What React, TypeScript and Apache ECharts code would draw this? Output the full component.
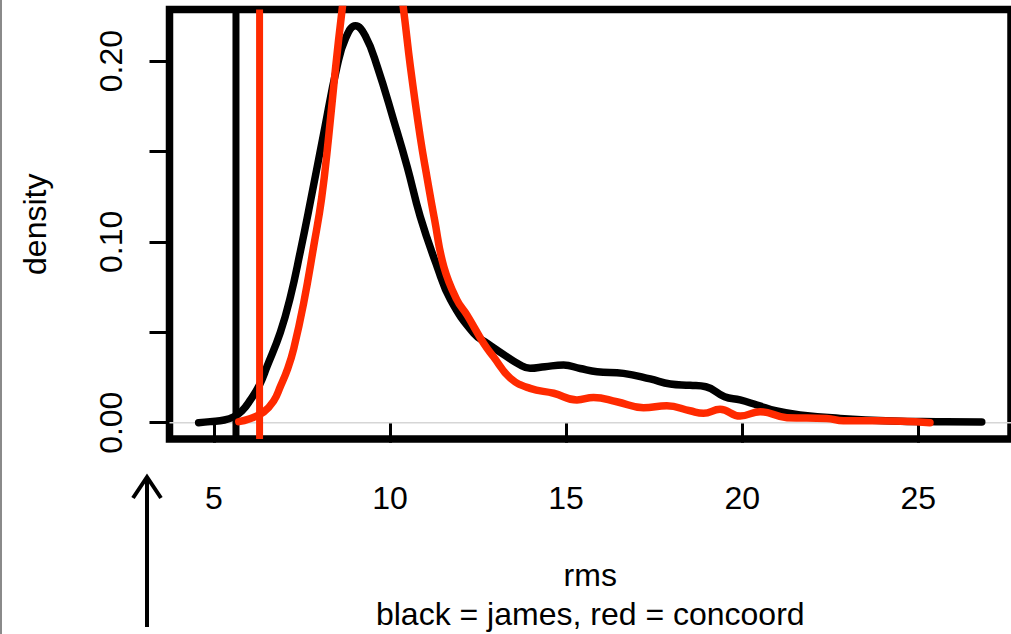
import React, { useEffect, useRef } from "react";
import * as echarts from "echarts";

// ---- data ----
const jamesRms = [4.57, 4.9, 5.3, 5.57, 5.8, 6.04, 6.3, 6.51, 6.89, 7.18, 7.46, 7.7, 8.12, 8.5, 8.75, 9.02, 9.3, 9.64, 10.11, 10.49, 10.86, 11.34, 11.72, 12.38, 12.76, 13.04, 13.7, 13.98, 14.4, 14.93, 15.4, 15.88, 16.63, 17.39, 17.96, 18.52, 18.97, 19.5, 19.94, 20.42, 20.98, 21.64, 22.78, 24.28, 25.5, 26.8];
const jamesDensity = [0.0, 0.0006, 0.0015, 0.0033, 0.0065, 0.0126, 0.021, 0.031, 0.05, 0.07, 0.095, 0.118, 0.16, 0.197, 0.213, 0.2195, 0.214, 0.197, 0.167, 0.1416, 0.114, 0.0863, 0.068, 0.0494, 0.0439, 0.0402, 0.0319, 0.0301, 0.031, 0.0319, 0.03, 0.0282, 0.0273, 0.0242, 0.0214, 0.0207, 0.0199, 0.0144, 0.0126, 0.0098, 0.0065, 0.0043, 0.0024, 0.001, 0.0006, 0.0004];

const concoordRms = [5.71, 6.0, 6.42, 6.7, 6.89, 7.1, 7.27, 7.55, 7.84, 8.06, 8.26, 8.45, 8.64, 8.9, 9.2, 9.5, 9.8, 10.1, 10.39, 10.58, 10.86, 11.05, 11.27, 11.53, 11.9, 12.19, 12.66, 12.94, 13.42, 13.98, 14.65, 15.31, 15.78, 16.44, 17.2, 17.86, 18.52, 18.9, 19.37, 19.94, 20.51, 21.27, 22.4, 22.87, 23.82, 25.33];
const concoordDensity = [0.0006, 0.002, 0.006, 0.012, 0.02, 0.03, 0.041, 0.066, 0.098, 0.124, 0.158, 0.195, 0.228, 0.27, 0.3, 0.31, 0.3, 0.27, 0.228, 0.197, 0.158, 0.136, 0.112, 0.0863, 0.068, 0.0595, 0.0439, 0.0365, 0.0246, 0.019, 0.0163, 0.0126, 0.014, 0.0116, 0.0083, 0.0094, 0.0066, 0.0052, 0.0074, 0.0037, 0.0061, 0.0028, 0.0024, 0.0011, 0.0011, 0.0];

const jamesCutoff = 5.63;
const concoordCutoff = 6.3;

const xTicks = [5, 10, 15, 20, 25];
const yTicks = [0, 0.05, 0.1, 0.15, 0.2];
const yLabelValues = [0, 0.1, 0.2];

const xRange = [3.743, 27.63];
const yRange = [-0.009, 0.2285];

const FONT = "'Liberation Sans', Arial, Helvetica, sans-serif";
const RED = "#ff2a00";

function pairs(xs: number[], ys: number[]) {
  return xs.map((x, i) => [x, ys[i]]);
}

export default function App() {
  const ref = useRef<HTMLDivElement>(null);

  useEffect(() => {
    if (!ref.current) return;
    const chart = echarts.init(ref.current, null, { renderer: "svg" });
    const lineBase = {
      type: "line",
      symbol: "none",
      silent: true,
      smooth: 0.45,
    };
    chart.setOption({
      animation: false,
      backgroundColor: "#ffffff",
      grid: {
        left: 169.5,
        right: 0,
        top: 9.5,
        bottom: 195,
        show: true,
        outerBoundsMode: "none",
        containLabel: false,
        borderColor: "#000000",
        borderWidth: 7.5,
        backgroundColor: "transparent",
      },
      xAxis: {
        type: "value",
        min: xRange[0],
        max: xRange[1],
        name: "rms\nblack = james, red = concoord",
        nameLocation: "middle",
        nameGap: 117,
        nameTextStyle: {
          fontFamily: FONT,
          fontSize: 32,
          lineHeight: 38.5,
          color: "#000",
          align: "center",
        },
        axisLine: { show: false },
        splitLine: { show: false },
        axisTick: {
          show: true,
          length: 20,
          customValues: xTicks,
          lineStyle: { color: "#000", width: 3 },
        },
        axisLabel: {
          customValues: xTicks,
          margin: 43,
          fontFamily: FONT,
          fontSize: 32,
          lineHeight: 32,
          color: "#000",
          formatter: (v: number) => String(v),
        },
      },
      yAxis: {
        type: "value",
        min: yRange[0],
        max: yRange[1],
        name: "density",
        nameLocation: "middle",
        nameGap: 119,
        nameTextStyle: {
          fontFamily: FONT,
          fontSize: 32,
          lineHeight: 32,
          color: "#000",
        },
        axisLine: { show: false },
        splitLine: { show: false },
        axisTick: {
          show: true,
          length: 20,
          customValues: yTicks,
          lineStyle: { color: "#000", width: 3 },
        },
        axisLabel: {
          customValues: yLabelValues,
          rotate: 90,
          margin: 43,
          fontFamily: FONT,
          fontSize: 32,
          lineHeight: 32,
          color: "#000",
          formatter: (v: number) => v.toFixed(2),
        },
      },
      series: [
        {
          ...lineBase,
          smooth: false,
          data: [[xRange[0], 0], [xRange[1], 0]],
          lineStyle: { color: "#d6d6d6", width: 1.5 },
        },
        {
          ...lineBase,
          data: pairs(jamesRms, jamesDensity),
          lineStyle: { color: "#000000", width: 7.5, cap: "round", join: "round" },
        },
        {
          ...lineBase,
          smooth: false,
          data: [[jamesCutoff, yRange[0]], [jamesCutoff, yRange[1]]],
          lineStyle: { color: "#000000", width: 7 },
        },
        {
          ...lineBase,
          data: pairs(concoordRms, concoordDensity),
          lineStyle: { color: RED, width: 7.5, cap: "round", join: "round" },
        },
        {
          ...lineBase,
          smooth: false,
          data: [[concoordCutoff, yRange[0]], [concoordCutoff, yRange[1]]],
          lineStyle: { color: RED, width: 7 },
        },
      ],
      graphic: [
        {
          type: "rect",
          shape: { x: 0, y: 0, width: 2, height: 634 },
          style: { fill: "#8a8a8a" },
          silent: true,
        },
        {
          type: "line",
          shape: { x1: 147, y1: 478, x2: 147, y2: 627 },
          style: { stroke: "#000", lineWidth: 4 },
          silent: true,
        },
        {
          type: "polyline",
          shape: { points: [[133, 498], [147, 477], [161, 498]] },
          style: { stroke: "#000", lineWidth: 4, fill: "none" },
          silent: true,
        },
      ],
    });
    return () => chart.dispose();
  }, []);

  return (
    <div
      ref={ref}
      style={{ position: "absolute", left: 0, top: 0, width: 1011, height: 634 }}
    />
  );
}
